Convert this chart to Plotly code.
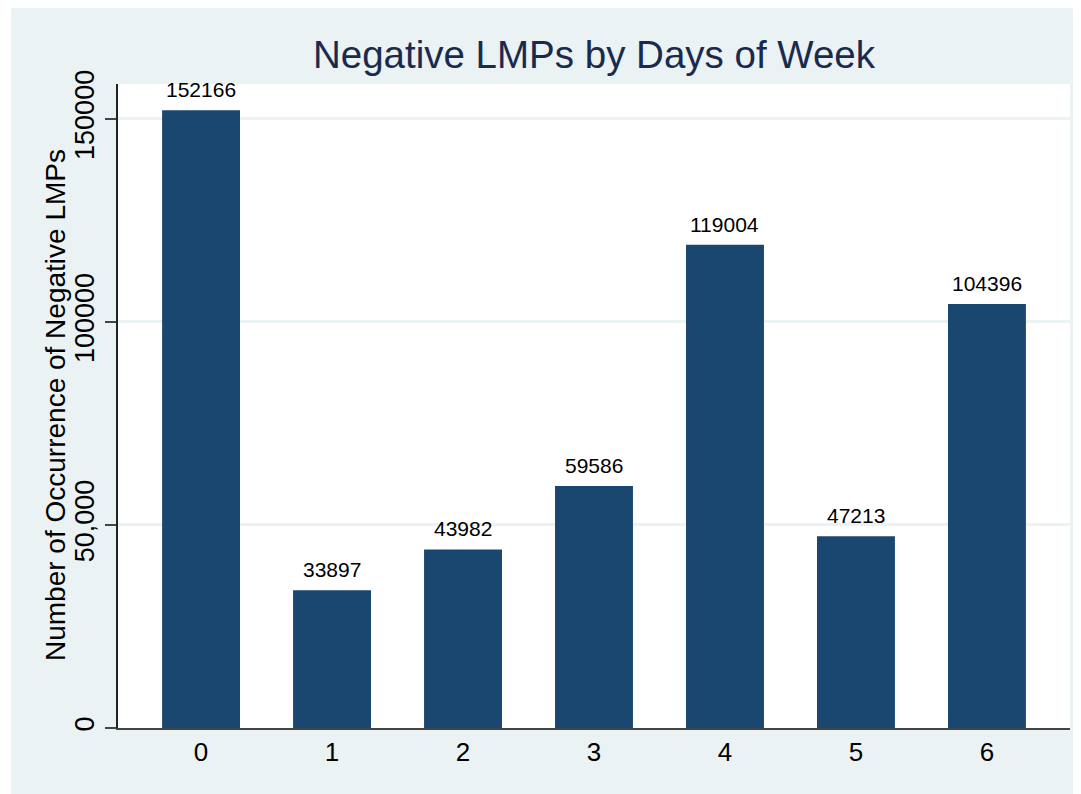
import plotly.graph_objects as go

days = ["0", "1", "2", "3", "4", "5", "6"]
counts = [152166, 33897, 43982, 59586, 119004, 47213, 104396]
y_tick_vals = [0, 50000, 100000, 150000]
y_tick_text = ["0", "50,000", "100000", "150000"]

BG = "#eaf2f3"
BAR = "#1a476f"

# page body has an 8px default margin; lay out the figure accordingly
W, H = 1073, 786
L, R, T, B = 110, 11, 76, 66
pw, ph = W - L - R, H - T - B

xs = list(range(len(days)))
fig = go.Figure(go.Bar(
    x=xs, y=counts,
    marker=dict(color=BAR, line=dict(width=0)),
    width=0.595, hoverinfo="x+y",
))

for xv, c in zip(xs, counts):
    fig.add_annotation(x=xv, y=c, text=str(c), showarrow=False,
                       xanchor="center", yanchor="bottom", yshift=7,
                       font=dict(size=21, color="black"))

# y-axis title placed as rotated text
fig.add_annotation(xref="paper", yref="paper", x=(47 - L) / pw, y=(H - B - 405 + 8) / ph,
                   text="Number of Occurrence of Negative LMPs", textangle=-90,
                   showarrow=False, xanchor="center", yanchor="middle",
                   font=dict(size=28, color="black"))

# thin white strip at the left of the outer background
fig.add_shape(type="rect", xref="paper", yref="paper", layer="below",
              x0=-L / pw, x1=(3 - L) / pw, y0=-B / ph, y1=(H - B) / ph,
              fillcolor="white", line=dict(width=0))

fig.update_layout(
    width=W, height=H,
    margin=dict(l=L, r=R, t=T, b=B),
    paper_bgcolor=BG, plot_bgcolor="white",
    font=dict(family="Liberation Sans, Arial, sans-serif", color="black"),
    title=dict(text="Negative LMPs by Days of Week", x=(L + pw / 2) / W, xanchor="center",
               y=1 - 47 / H, yanchor="middle",
               font=dict(size=38.5, color="#1a2a4f")),
    showlegend=False,
)
fig.update_xaxes(
    range=[-0.634, 6.634], tickvals=xs, ticktext=days,
    tickfont=dict(size=26), showgrid=False, zeroline=False,
    showline=True, linecolor="#444", linewidth=2, ticks="",
)
fig.update_yaxes(
    range=[0, 158600], tickvals=y_tick_vals, ticktext=y_tick_text,
    tickangle=-90, tickfont=dict(size=27), ticks="outside", ticklen=11,
    tickcolor="#444", tickwidth=1.5,
    showgrid=True, gridcolor=BG, gridwidth=2.5, zeroline=False,
    showline=True, linecolor="#222", linewidth=1.5,
)
fig.write_html("out.html")
